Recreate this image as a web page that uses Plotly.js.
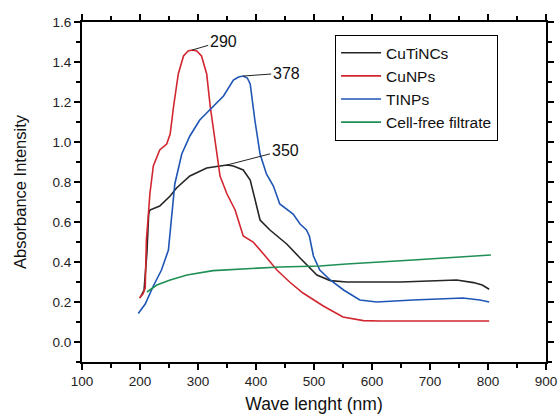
<!DOCTYPE html>
<html>
<head>
<meta charset="utf-8">
<script src="https://cdn.plot.ly/plotly-3.0.1.min.js"></script>
<style>html,body{margin:0;padding:0;background:#fff;}#chart{width:559px;height:414px;}</style>
</head>
<body>
<div id="chart"></div>
<script>
const seriesNames = ["CuTiNCs", "CuNPs", "TINPs", "Cell-free filtrate"];
const seriesColors = ["#262626", "#d22630", "#1f55b5", "#1f8f55"];

const cutincsX = [200, 207, 212, 215, 217, 234, 252, 263, 286, 315, 338, 350, 361, 378, 390, 398, 407, 424, 441, 453, 476, 505, 528, 556, 650, 746, 775, 790, 802];
const cutincsY = [0.22, 0.26, 0.45, 0.64, 0.66, 0.68, 0.73, 0.77, 0.83, 0.87, 0.88, 0.885, 0.88, 0.86, 0.81, 0.71, 0.61, 0.56, 0.52, 0.49, 0.42, 0.335, 0.307, 0.30, 0.30, 0.31, 0.297, 0.285, 0.264];

const cunpsX = [199, 205, 209, 211, 214, 217, 223, 234, 246, 252, 258, 266, 275, 283, 290, 298, 306, 315, 321, 329, 338, 350, 364, 378, 395, 413, 436, 458, 481, 516, 550, 585, 613, 700, 802];
const cunpsY = [0.22, 0.24, 0.27, 0.51, 0.62, 0.74, 0.88, 0.96, 0.99, 1.04, 1.18, 1.34, 1.43, 1.455, 1.46, 1.455, 1.43, 1.34, 1.18, 1.01, 0.83, 0.74, 0.66, 0.53, 0.50, 0.44, 0.36, 0.30, 0.245, 0.18, 0.125, 0.107, 0.105, 0.105, 0.105];

const tinpsX = [197, 209, 223, 237, 249, 255, 260, 272, 286, 303, 326, 344, 361, 370, 378, 385, 390, 398, 407, 418, 430, 441, 464, 476, 487, 492, 499, 510, 528, 551, 579, 608, 671, 757, 786, 802];
const tinpsY = [0.143, 0.19, 0.28, 0.36, 0.46, 0.64, 0.79, 0.94, 1.03, 1.11, 1.18, 1.23, 1.31, 1.325, 1.33, 1.32, 1.29, 1.11, 0.94, 0.84, 0.78, 0.69, 0.64, 0.59, 0.56, 0.53, 0.43, 0.36, 0.31, 0.26, 0.21, 0.20, 0.21, 0.22, 0.21, 0.20];

const filtrateX = [212, 229, 252, 281, 326, 395, 441, 510, 556, 671, 805];
const filtrateY = [0.25, 0.285, 0.31, 0.335, 0.357, 0.368, 0.375, 0.38, 0.39, 0.41, 0.435];

const xTickVals = [100, 200, 300, 400, 500, 600, 700, 800, 900];
const yTickVals = [0.0, 0.2, 0.4, 0.6, 0.8, 1.0, 1.2, 1.4, 1.6];

const allX = [cutincsX, cunpsX, tinpsX, filtrateX];
const allY = [cutincsY, cunpsY, tinpsY, filtrateY];

const traces = allX.map((xs, i) => ({
  type: "scatter", mode: "lines", name: seriesNames[i],
  x: xs, y: allY[i],
  line: {color: seriesColors[i], width: 1.6, shape: "linear"}
}));

function peakOf(i) {
  const ys = allY[i];
  let k = 0;
  for (let j = 1; j < ys.length; j++) if (ys[j] > ys[k]) k = j;
  return {x: allX[i][k], y: ys[k]};
}
const pRed = peakOf(1), pBlue = peakOf(2), pBlack = peakOf(0);

const FONT = "Liberation Sans, Arial, sans-serif";
const annFont = {family: FONT, size: 16, color: "#111"};
const annotations = [
  {x: pRed.x, y: pRed.y, text: String(pRed.x), ax: 31, ay: -9, showarrow: true, arrowhead: 0, arrowwidth: 1, arrowcolor: "#222", font: annFont, standoff: 0},
  {x: pBlue.x, y: pBlue.y, text: String(pBlue.x), ax: 43, ay: -3, showarrow: true, arrowhead: 0, arrowwidth: 1, arrowcolor: "#222", font: annFont, standoff: 0},
  {x: pBlack.x, y: pBlack.y, text: String(pBlack.x), ax: 58, ay: -15, showarrow: true, arrowhead: 0, arrowwidth: 1, arrowcolor: "#222", font: annFont, standoff: 0}
];

const axisCommon = {
  showline: true, linecolor: "#000", linewidth: 2, mirror: "allticks",
  ticks: "outside", ticklen: 6, tickwidth: 1.5, tickcolor: "#000",
  showgrid: false, zeroline: false,
  tickfont: {family: FONT, size: 13.5, color: "#222"}
};

const layout = {
  width: 559, height: 414,
  margin: {l: 82, r: 13, t: 22, b: 52},
  paper_bgcolor: "#fff", plot_bgcolor: "#fff",
  showlegend: true,
  legend: {
    x: 0.545, y: 0.962, xanchor: "left", yanchor: "top",
    bordercolor: "#000", borderwidth: 1.2, bgcolor: "#fff",
    font: {family: FONT, size: 15.5, color: "#111"},
    tracegroupgap: 0, itemwidth: 40
  },
  xaxis: Object.assign({}, axisCommon, {
    range: [100, 900], tickvals: xTickVals, ticktext: xTickVals.map(String),
    minor: {ticks: "outside", ticklen: 4, dtick: 50, tick0: 100, tickcolor: "#000", tickwidth: 1.2},
    title: {text: "Wave lenght (nm)", font: {family: FONT, size: 17.5, color: "#111"}, standoff: 11}
  }),
  yaxis: Object.assign({}, axisCommon, {
    range: [-0.1, 1.6], tickvals: yTickVals, ticktext: yTickVals.map(v => v.toFixed(1)),
    minor: {ticks: "outside", ticklen: 4, dtick: 0.1, tick0: 0, tickcolor: "#000", tickwidth: 1.2},
    title: {text: "Absorbance Intensity", font: {family: FONT, size: 16.5, color: "#111"}, standoff: 22}
  }),
  annotations: annotations
};

Plotly.newPlot("chart", traces, layout, {displayModeBar: false, staticPlot: true});
</script>
</body>
</html>
